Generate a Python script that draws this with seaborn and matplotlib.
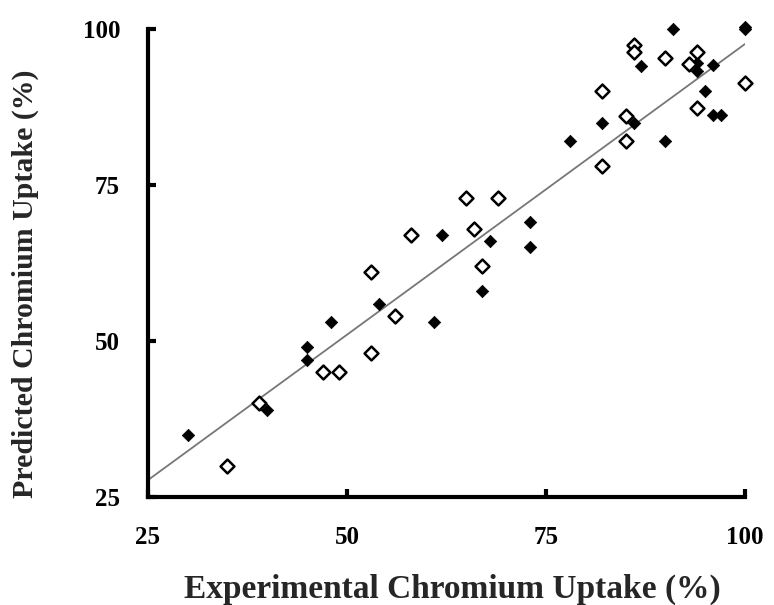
import numpy as np
import pandas as pd
import matplotlib
matplotlib.use("Agg")
import matplotlib.pyplot as plt
import seaborn as sns

# filled diamonds
filled_x = [30, 40, 45, 45, 48, 54, 61, 62, 67, 68, 73, 73, 78, 82, 86, 87,
            90, 91, 94, 94, 95, 96, 96, 97, 100, 100]
filled_y = [35, 39, 49, 47, 53, 56, 53, 67, 58, 66, 69, 65, 82, 85, 85, 94,
            82, 100, 93.3, 94.5, 90, 94.3, 86.3, 86.3, 100, 100.3]

# open diamonds
open_x = [35, 39, 47, 49, 53, 53, 56, 58, 65, 66, 67, 69, 82, 82, 85, 85,
          86, 86, 90, 93, 94, 94, 100]
open_y = [30, 40, 45, 45, 48, 61, 54, 67, 73, 68, 62, 73, 90, 78, 86, 82,
          97.5, 96.3, 95.3, 94.4, 96.4, 87.3, 91.3]

# trend line at the axis ends
fit_x = [25, 100]
fit_y = [27.7, 97.6]

df_filled = pd.DataFrame({"exp": filled_x, "pred": filled_y})
df_open = pd.DataFrame({"exp": open_x, "pred": open_y})
df_fit = pd.DataFrame({"exp": fit_x, "pred": fit_y})

sns.set_theme(style="white")
plt.rcParams['font.family'] = ['Liberation Serif', 'DejaVu Serif']

fig = plt.figure(figsize=(7.74, 6.05), dpi=100)
ax = fig.add_axes([0.191, 0.1785, 0.7715, 0.7735])

sns.lineplot(data=df_fit, x="exp", y="pred", ax=ax, color="#777777", lw=1.3)

sns.scatterplot(data=df_filled, x="exp", y="pred", ax=ax, marker="D", s=40,
                color="black", edgecolor="black", linewidth=0.5, zorder=3,
                clip_on=False)
sns.scatterplot(data=df_open, x="exp", y="pred", ax=ax, marker="D", s=50,
                facecolor="white", edgecolor="black", linewidth=1.8, zorder=3,
                clip_on=False)

ax.set_xlim(25, 100)
ax.set_ylim(25, 100)
ax.set_xticks([25, 50, 75, 100])
ax.set_yticks([25, 50, 75, 100])
ax.tick_params(axis="both", direction="in", length=6, width=3, labelsize=18,
               color="black", labelcolor="black", left=True, bottom=True)
ax.tick_params(axis="x", pad=21)
ax.tick_params(axis="y", pad=20)
for lab in ax.get_xticklabels() + ax.get_yticklabels():
    lab.set_fontweight("bold")

sns.despine(ax=ax)
for side in ["left", "bottom"]:
    ax.spines[side].set_linewidth(3)
    ax.spines[side].set_color("black")

ax.set_xlabel("Experimental Chromium Uptake (%)", fontsize=24,
              fontweight="bold")
ax.set_ylabel("Predicted Chromium Uptake (%)", fontsize=21.5,
              fontweight="bold")
ax.xaxis.set_label_coords(0.51, -0.163)
ax.yaxis.set_label_coords(-0.182, 0.455)

fig.savefig("out.png", dpi=100)
